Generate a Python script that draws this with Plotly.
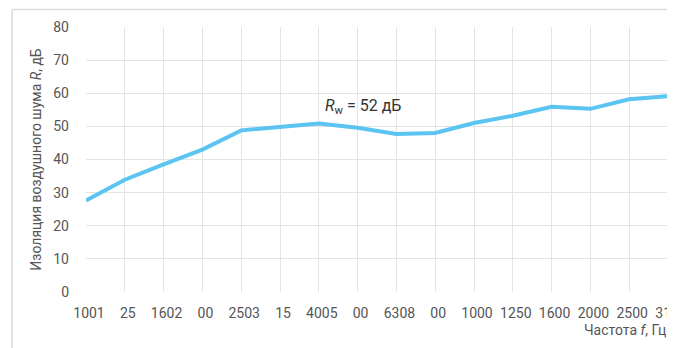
import plotly.graph_objects as go

# Частоты (подписи оси X так, как они выведены на исходной картинке)
freq = ["100", "125", "160", "200", "250", "315", "400", "500",
        "630", "800", "1000", "1250", "1600", "2000", "2500", "3150"]
tick_text = ["1001", "25", "1602", "00", "2503", "15", "4005", "00",
             "6308", "00", "1000", "1250", "1600", "2000", "2500", "3150"]
# Изоляция воздушного шума R, дБ
r_db = [27.6, 33.9, 38.5, 43.0, 48.8, 49.9, 50.9, 49.6,
        47.7, 48.0, 51.0, 53.2, 55.9, 55.3, 58.2, 59.1]

FONT = "Roboto"
TXT = "#555555"
GRID = "#e4e4e4"
LINE = "#5bc4f1"

xs = list(range(len(freq)))

fig = go.Figure()
fig.add_trace(go.Scatter(
    x=xs, y=r_db, mode="lines",
    line=dict(color=LINE, width=4),
    hoverinfo="skip", showlegend=False,
))

# страница имеет отступ 8px, поэтому размеры уменьшены на 8
fig.update_layout(
    width=667, height=340,
    margin=dict(l=78, r=7, t=19, b=56),
    paper_bgcolor="white", plot_bgcolor="white",
    font=dict(family=FONT, size=14, color=TXT),
)
fig.update_xaxes(
    range=[0, 15], tickvals=xs, ticktext=tick_text,
    showgrid=True, gridcolor=GRID, gridwidth=1,
    showline=False, zeroline=False, ticks="",
    ticklabelstandoff=11, ticklabelshift=3,
    automargin=False, ticklabeloverflow="allow",
)
fig.update_yaxes(
    range=[0, 80], dtick=10,
    showgrid=True, gridcolor=GRID, gridwidth=1,
    showline=False, zeroline=False, ticks="",
    ticklabelstandoff=16, automargin=False,
    title=dict(text="Изоляция воздушного шума <i>R</i>, дБ",
               standoff=8, font=dict(size=14, color=TXT)),
)

# рамка вокруг всего графика
fig.add_shape(type="line", xref="paper", yref="paper",
              x0=-0.1271, x1=1.2, y0=1.066, y1=1.066,
              line=dict(color="#dcdcdc", width=1.5), layer="above")
fig.add_shape(type="line", xref="paper", yref="paper",
              x0=-0.1271, x1=-0.1271, y0=-0.4, y1=1.066,
              line=dict(color="#dcdcdc", width=1.5), layer="above")

fig.add_annotation(x=6.1, y=56, xref="x", yref="y",
                   text="<i>R</i><sub>w</sub> = 52 дБ", showarrow=False,
                   xanchor="left", yanchor="middle",
                   font=dict(size=16, color="#333333"))
fig.add_annotation(x=1, y=-0.143, xref="paper", yref="paper",
                   text="Частота <i>f</i>, Гц", showarrow=False,
                   xanchor="right", yanchor="middle",
                   font=dict(size=14, color=TXT))

fig.write_html("out.html")
